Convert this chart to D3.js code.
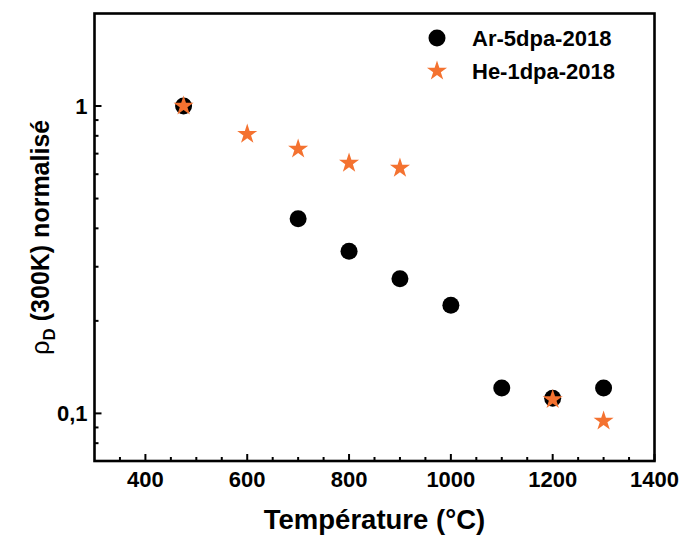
<!DOCTYPE html>
<html><head><meta charset="utf-8">
<script src="https://cdn.jsdelivr.net/npm/d3@7"></script>
<style>body{margin:0;background:#fff}svg{display:block}text{font-family:"Liberation Sans",Arial,sans-serif;font-weight:bold;fill:#000}</style>
</head><body><svg id="c" width="682" height="537"></svg>
<script>
const arTemps = [475, 700, 800, 900, 1000, 1100, 1200, 1300];
const arValues = [1.0, 0.43, 0.337, 0.274, 0.225, 0.121, 0.112, 0.121];
const heTemps = [475, 600, 700, 800, 900, 1200, 1300];
const heValues = [1.0, 0.81, 0.725, 0.652, 0.628, 0.111, 0.0944];
const seriesNames = ["Ar-5dpa-2018", "He-1dpa-2018"];
const xTicks = [400, 600, 800, 1000, 1200, 1400];
const xMinor = d3.range(300, 1401, 50);
const yTicks = [0.1, 1];
const yTickLabels = ["0,1", "1"];
const yMinor = [0.07,0.08,0.09,0.2,0.3,0.4,0.5,0.6,0.7,0.8,0.9,2];
const orange = "#f47230";

const svg = d3.select("#c");
const L = 94.5, R = 654.5, T = 13.5, B = 461;
const x = d3.scaleLinear().domain([300, 1400]).range([L, R]);
const y = d3.scaleLog().domain([0.07, 2]).range([B, T]);

const g = svg.append("g");
g.selectAll(".xmaj").data(xTicks).join("line")
  .attr("x1", d => x(d)).attr("x2", d => x(d)).attr("y1", B).attr("y2", B - 7)
  .attr("stroke", "#000").attr("stroke-width", 2);
g.selectAll(".xmin").data(xMinor.filter(d => !xTicks.includes(d) && d > 300 && d < 1400)).join("line")
  .attr("x1", d => x(d)).attr("x2", d => x(d)).attr("y1", B).attr("y2", B - 4)
  .attr("stroke", "#000").attr("stroke-width", 2);
g.selectAll(".ymaj").data(yTicks).join("line")
  .attr("y1", d => y(d)).attr("y2", d => y(d)).attr("x1", L).attr("x2", L + 7)
  .attr("stroke", "#000").attr("stroke-width", 2);
g.selectAll(".ymin").data(yMinor.filter(d => d > 0.07 && d < 2)).join("line")
  .attr("y1", d => y(d)).attr("y2", d => y(d)).attr("x1", L).attr("x2", L + 4)
  .attr("stroke", "#000").attr("stroke-width", 2);

svg.append("rect").attr("x", L).attr("y", T).attr("width", R - L).attr("height", B - T)
  .attr("fill", "none").attr("stroke", "#000").attr("stroke-width", 2.6);

svg.selectAll(".xl").data(xTicks).join("text")
  .attr("x", d => x(d)).attr("y", 487).attr("text-anchor", "middle")
  .style("font-size", "22px").text(d => d);
svg.selectAll(".yl").data(yTicks).join("text")
  .attr("x", L - 7).attr("y", d => y(d)).attr("dy", "0.36em").attr("text-anchor", "end")
  .style("font-size", "22px").text((d, i) => yTickLabels[i]);

svg.append("text").attr("x", (L + R) / 2).attr("y", 529).attr("text-anchor", "middle")
  .style("font-size", "27.5px").text("Température (°C)");
const yt = svg.append("text").attr("transform", `translate(49,${(T + B) / 2}) rotate(-90)`)
  .attr("text-anchor", "middle").style("font-size", "25px");
yt.append("tspan").style("font-weight", "normal").text("ρ");
yt.append("tspan").attr("dy", 6).style("font-size", "17px").text("D");
yt.append("tspan").attr("dy", -6).text(" (300K) normalisé");

const star = d3.symbol().type(d3.symbolStar).size(125);
svg.selectAll(".ar").data(arTemps).join("circle")
  .attr("cx", d => x(d)).attr("cy", (d, i) => y(arValues[i])).attr("r", 8.5).attr("fill", "#000");
svg.selectAll(".he").data(heTemps).join("path")
  .attr("d", star).attr("fill", orange)
  .attr("transform", (d, i) => `translate(${x(d)},${y(heValues[i])})`);

svg.append("circle").attr("cx", 437).attr("cy", 38).attr("r", 8.5).attr("fill", "#000");
svg.append("path").attr("d", star).attr("fill", orange).attr("transform", "translate(437,71)");
svg.append("text").attr("x", 472).attr("y", 38).attr("dy", "0.36em").style("font-size", "22px").text(seriesNames[0]);
svg.append("text").attr("x", 472).attr("y", 71).attr("dy", "0.36em").style("font-size", "22px").text(seriesNames[1]);
</script></body></html>
